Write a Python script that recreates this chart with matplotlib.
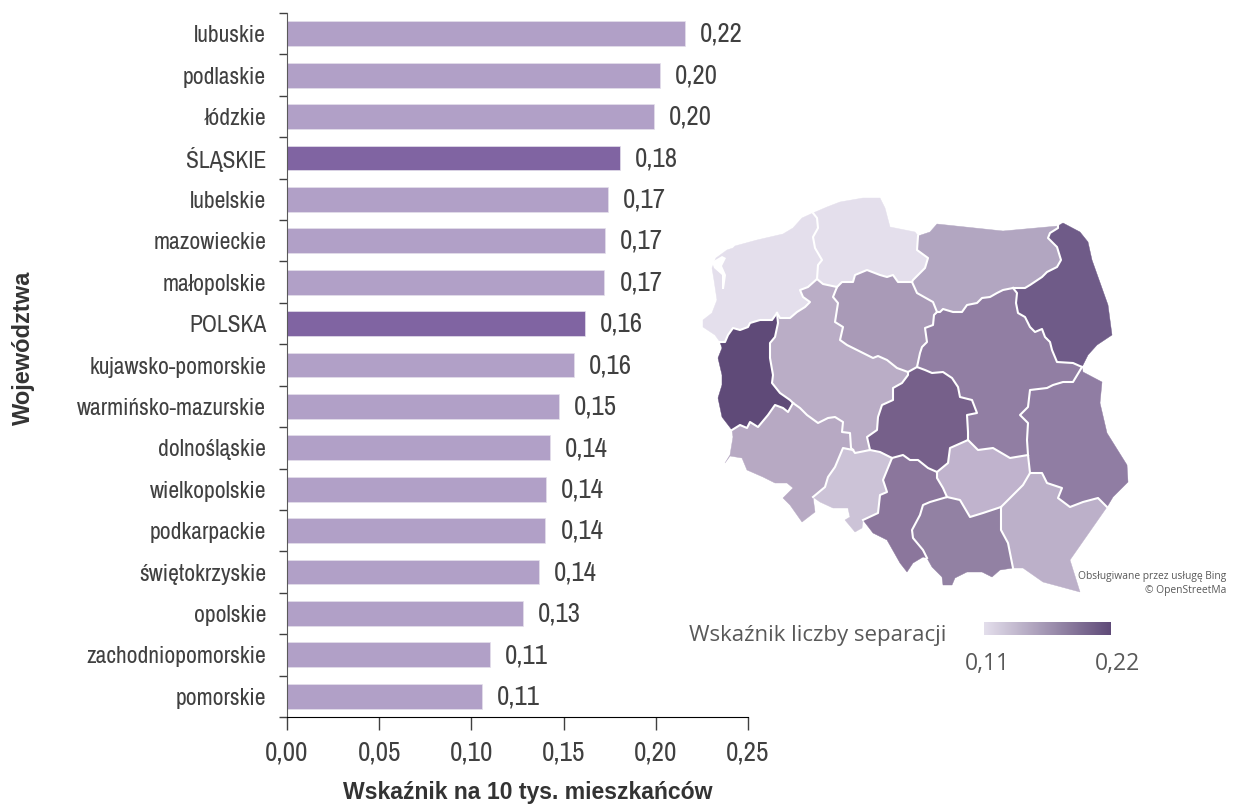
import numpy as np
import matplotlib
matplotlib.use('Agg')
import matplotlib.pyplot as plt
from matplotlib.colors import LinearSegmentedColormap

names = ['lubuskie', 'podlaskie', 'łódzkie', 'ŚLĄSKIE', 'lubelskie', 'mazowieckie', 'małopolskie', 'POLSKA',
         'kujawsko-pomorskie', 'warmińsko-mazurskie', 'dolnośląskie', 'wielkopolskie', 'podkarpackie',
         'świętokrzyskie', 'opolskie', 'zachodniopomorskie', 'pomorskie']
values = [0.2158, 0.2023, 0.199, 0.1806, 0.174, 0.1725, 0.172, 0.1616, 0.1556, 0.1475, 0.1426, 0.1405, 0.14,
          0.1367, 0.128, 0.110, 0.1058]
value_labels = ['0,22', '0,20', '0,20', '0,18', '0,17', '0,17', '0,17', '0,16', '0,16', '0,15', '0,14', '0,14',
                '0,14', '0,14', '0,13', '0,11', '0,11']
x_ticks = [0, 0.05, 0.10, 0.15, 0.20, 0.25]
x_tick_labels = ['0,00', '0,05', '0,10', '0,15', '0,20', '0,25']
highlight = ['ŚLĄSKIE', 'POLSKA']

# map outlines, in pixels of the picture
coast_zach = [(720, 342), (715, 335), (703, 327), (703, 320), (712, 313), (717, 300), (714, 280), (712, 268),
              (716, 258), (727, 250), (733, 248), (735, 246), (757, 240), (783, 234), (793, 228), (802, 218),
              (813, 213)]
zach_pom = [(813, 213), (817, 218), (818, 228), (813, 237), (815, 248), (822, 260), (818, 265), (817, 279)]
zach_wlkp = [(817, 279), (808, 287), (800, 290), (803, 297), (810, 302), (805, 307), (797, 312), (790, 318),
             (780, 318), (777, 313)]
zach_lub = [(777, 313), (772, 320), (760, 320), (750, 323), (748, 327), (740, 330), (733, 328), (728, 335),
            (725, 342), (720, 342)]
lagoon = [(712, 262), (722, 256), (726, 258), (722, 266), (726, 275), (724, 289), (722, 289), (722, 275), (714, 268)]
pom_coast = [(813, 213), (827, 207), (840, 202), (863, 198), (880, 198), (885, 208), (890, 227), (915, 232),
             (918, 236)]
pom_warm = [(918, 236), (917, 250), (928, 258), (925, 268), (913, 280), (912, 282)]
pom_wlkp = [(817, 279), (823, 284), (837, 287)]
pom_kuj = [(837, 287), (842, 282), (853, 282), (855, 275), (867, 270), (880, 275), (887, 277), (893, 275),
           (898, 282), (912, 282)]
warm_coast = [(918, 236), (930, 232), (937, 224), (1003, 231), (1058, 226)]
warm_podl = [(1058, 226), (1058, 228), (1050, 233), (1048, 238), (1057, 247), (1061, 260), (1057, 267), (1047, 272),
             (1042, 277), (1030, 285), (1025, 288), (1013, 288)]
warm_maz = [(1013, 288), (1003, 290), (997, 293), (990, 297), (982, 298), (977, 303), (967, 305), (962, 312),
            (953, 312), (943, 309), (940, 312), (937, 312)]
warm_kuj = [(912, 282), (917, 293), (933, 302), (937, 312)]
podl_east = [(1058, 226), (1063, 223), (1080, 232), (1088, 242), (1092, 260), (1108, 305), (1112, 335),
             (1097, 345), (1088, 355), (1082, 367)]
podl_maz = [(1082, 367), (1073, 363), (1057, 362), (1052, 350), (1050, 342), (1045, 337), (1042, 329), (1035, 332),
            (1030, 327), (1025, 317), (1018, 313), (1016, 303), (1017, 293), (1013, 288)]
kuj_maz = [(937, 312), (934, 315), (933, 325), (925, 328), (927, 342), (922, 347), (920, 353), (917, 367)]
kuj_lodz = [(917, 367), (908, 372)]
wlkp_kuj = [(837, 287), (833, 297), (838, 303), (835, 322), (843, 327), (840, 340), (847, 345), (853, 348),
            (867, 355), (873, 358), (878, 356), (887, 360), (897, 368), (908, 372)]
wlkp_lodz = [(908, 372), (908, 375), (902, 383), (893, 388), (893, 400), (882, 405), (878, 417), (877, 430),
             (867, 437), (870, 450)]
wlkp_opol = [(870, 450), (855, 453), (853, 450)]
wlkp_dol = [(853, 450), (851, 448), (850, 433), (842, 432), (843, 422), (835, 417), (828, 418), (818, 423),
            (807, 415), (800, 408), (793, 403)]
lub_wlkp = [(777, 313), (778, 323), (775, 337), (770, 343), (770, 358), (773, 375), (772, 383), (780, 393),
            (790, 400), (793, 403)]
lub_dol = [(793, 403), (788, 412), (783, 408), (775, 405), (768, 415), (758, 427), (750, 422), (747, 428),
           (740, 425), (732, 430)]
lub_west = [(732, 430), (722, 417), (718, 398), (722, 385), (722, 375), (718, 358), (722, 348), (720, 342)]
dol_opol = [(813, 497), (825, 487), (828, 477), (835, 467), (843, 448), (853, 450)]
dol_south = [(813, 497), (815, 512), (802, 522), (790, 505), (783, 498), (793, 488), (787, 483), (775, 483),
             (763, 477), (747, 470), (742, 458), (730, 456), (725, 463), (730, 455), (733, 437), (732, 430)]
lodz_opol = [(870, 450), (880, 452), (892, 458)]
opol_sl = [(892, 458), (883, 480), (887, 492), (880, 495), (878, 513), (863, 520)]
opol_south = [(863, 520), (862, 528), (855, 532), (845, 520), (850, 517), (848, 508), (833, 508), (820, 502),
              (813, 497)]
lodz_sl = [(937, 472), (928, 468), (918, 460), (910, 460), (903, 455), (892, 458)]
sl_swie = [(937, 472), (937, 478), (943, 488), (947, 497)]
sl_mal = [(947, 497), (930, 502), (923, 505), (920, 515), (912, 530), (913, 538), (923, 550), (927, 558)]
sl_south = [(927, 558), (923, 557), (913, 563), (907, 572), (900, 563), (887, 540), (873, 533), (863, 520)]
mal_swie = [(947, 497), (960, 500), (970, 517), (983, 513), (1001, 507)]
mal_pod = [(1001, 507), (1001, 530), (1008, 543), (1013, 568)]
mal_south = [(1013, 568), (1000, 570), (992, 577), (982, 572), (967, 572), (955, 578), (952, 585), (943, 585),
             (942, 577), (932, 567), (927, 558)]
lodz_swie = [(968, 440), (950, 448), (948, 463), (937, 472)]
maz_lodz = [(917, 367), (925, 370), (932, 373), (943, 372), (952, 378), (958, 387), (960, 397), (972, 400),
            (977, 413), (967, 415), (968, 432), (968, 440)]
maz_swie = [(968, 440), (978, 450), (993, 448), (1010, 458), (1028, 455)]
swie_lub = [(1028, 455), (1030, 473)]
swie_pod = [(1030, 473), (1023, 485), (1003, 505), (1001, 507)]
maz_lub = [(1082, 367), (1073, 382), (1063, 382), (1053, 385), (1047, 388), (1030, 390), (1028, 407), (1020, 415),
           (1028, 423), (1027, 440), (1028, 455)]
lube_east = [(1082, 367), (1083, 372), (1102, 382), (1100, 403), (1107, 433), (1127, 465), (1128, 482),
             (1113, 497), (1107, 507)]
lube_pod = [(1107, 507), (1098, 498), (1083, 502), (1070, 507), (1058, 498), (1062, 488), (1047, 483),
            (1042, 473), (1030, 473)]
pod_south = [(1107, 507), (1070, 560), (1080, 592), (1043, 582), (1023, 568), (1013, 568)]

regions = [
    ('#E4DFEC', [coast_zach, zach_pom, zach_wlkp, zach_lub]),
    ('#E4DFEC', [pom_coast, pom_warm, pom_kuj[::-1], pom_wlkp[::-1], zach_pom[::-1]]),
    ('#B2A6C1', [warm_coast, warm_podl, warm_maz, warm_kuj[::-1], pom_warm[::-1]]),
    ('#6F5B88', [podl_east, podl_maz, warm_podl[::-1]]),
    ('#A99AB7', [pom_kuj, warm_kuj, kuj_maz, kuj_lodz, wlkp_kuj[::-1]]),
    ('#BAADC6', [zach_wlkp[::-1], pom_wlkp, wlkp_kuj, wlkp_lodz, wlkp_opol, wlkp_dol, lub_wlkp[::-1]]),
    ('#76608A', [wlkp_lodz[::-1], kuj_lodz[::-1], maz_lodz, lodz_swie, lodz_sl, lodz_opol[::-1]]),
    ('#5F4A78', [zach_lub[::-1], lub_wlkp, lub_dol, lub_west]),
    ('#B7A9C3', [lub_dol[::-1], wlkp_dol[::-1], dol_opol[::-1], dol_south]),
    ('#CCC3D7', [dol_opol, wlkp_opol[::-1], lodz_opol, opol_sl, opol_south]),
    ('#8B769C', [lodz_sl[::-1], sl_swie, sl_mal, sl_south, opol_sl[::-1]]),
    ('#9281A3', [sl_mal[::-1], mal_swie, mal_pod, mal_south]),
    ('#C0B3CD', [maz_swie, swie_lub, swie_pod, mal_swie[::-1], sl_swie[::-1], lodz_swie[::-1]]),
    ('#917EA3', [warm_maz[::-1], podl_maz[::-1], maz_lub, maz_swie[::-1], maz_lodz[::-1], kuj_maz[::-1]]),
    ('#907DA3', [lube_east, lube_pod, swie_lub[::-1], maz_lub[::-1]]),
    ('#BCB0C9', [lube_pod[::-1], pod_south, mal_pod[::-1], swie_pod[::-1]]),
]
inner_borders = [zach_pom, zach_wlkp, zach_lub, pom_warm, pom_wlkp, pom_kuj, warm_podl, warm_maz, warm_kuj,
                 podl_maz, kuj_maz, kuj_lodz, wlkp_kuj, wlkp_lodz, wlkp_opol, wlkp_dol, lub_wlkp, lub_dol,
                 dol_opol, lodz_opol, opol_sl, lodz_sl, sl_swie, sl_mal, mal_swie, mal_pod, lodz_swie,
                 maz_lodz, maz_swie, swie_lub, swie_pod, maz_lub, lube_pod]

plt.rcParams['font.family'] = ['Archivo Narrow', 'Liberation Sans']
bold_font = ['Liberation Sans', 'DejaVu Sans']
W, H = 1233, 807
fig = plt.figure(figsize=(W/100, H/100), dpi=100)

# bar chart
ax = fig.add_axes([287/W, 1 - 717/H, (748 - 287)/W, (717 - 13)/H])
y = np.arange(len(names))
colors = ['#8064A2' if n in highlight else '#B1A0C7' for n in names]
ax.barh(y, values, height=0.6, color=colors, edgecolor='#E4DFEC', linewidth=0.5)
ax.set_xlim(0, 0.25)
ax.set_ylim(len(names) - 0.5, -0.5)
ax.set_yticks(y)
ax.set_yticklabels(names, fontsize=17, color='#404040')
ax.set_yticks(np.arange(len(names) + 1) - 0.5, minor=True)
ax.tick_params(axis='y', which='major', length=0, pad=15)
ax.tick_params(axis='y', which='minor', length=6, width=1, color='#404040')
ax.set_xticks(x_ticks)
ax.set_xticklabels(x_tick_labels, fontsize=19.5, color='#404040')
ax.tick_params(axis='x', length=9, width=1, color='#404040', pad=8)
for s in ['top', 'right']:
    ax.spines[s].set_visible(False)
ax.spines['left'].set_color('#595959')
ax.spines['bottom'].set_color('black')
for i, v in enumerate(values):
    ax.annotate(value_labels[i], (v, i), xytext=(11, -0.5), textcoords='offset points', va='center', ha='left',
                fontsize=19.3, color='#404040')
fig.text(528/W, 1 - 793/H, 'Wskaźnik na 10 tys. mieszkańców', ha='center', va='center', fontsize=16.6,
         fontweight='bold', color='#333333', family=bold_font)
fig.text(23/W, 1 - 348/H, 'Województwa', ha='center', va='center', rotation=90, fontsize=17,
         fontweight='bold', color='#333333', family=bold_font)

# map
mp = fig.add_axes([0, 0, 1, 1], facecolor='none')
mp.set_xlim(0, W)
mp.set_ylim(H, 0)
mp.axis('off')
for color, segs in regions:
    pts = np.vstack([np.array(s) for s in segs])
    mp.fill(pts[:, 0], pts[:, 1], color=color, linewidth=0.3)
lag = np.array(lagoon)
mp.fill(lag[:, 0], lag[:, 1], color='white', linewidth=0)
for b in inner_borders:
    b = np.array(b)
    mp.plot(b[:, 0], b[:, 1], color='white', linewidth=1.5, solid_joinstyle='round')

right_font = ['Open Sans', 'DejaVu Sans']
mp.text(1226, 577, 'Obsługiwane przez usługę Bing', ha='right', va='center', fontsize=7.4, color='#595959',
        family=right_font)
mp.text(1226, 590, '© OpenStreetMa', ha='right', va='center', fontsize=7.4, color='#595959', family=right_font)
mp.text(689, 636, 'Wskaźnik liczby separacji', ha='left', va='center', fontsize=16, color='#595959',
        family=right_font)
mp.text(987, 664, '0,11', ha='center', va='center', fontsize=16.5, color='#595959', family=right_font)
mp.text(1117, 664, '0,22', ha='center', va='center', fontsize=16.5, color='#595959', family=right_font)

# legend gradient
cb = fig.add_axes([984/W, 1 - 635/H, (1111 - 984)/W, 13/H])
cmap = LinearSegmentedColormap.from_list('sep', ['#E4DFEC', '#5F4A78'])
cb.imshow(np.linspace(0, 1, 256).reshape(1, -1), aspect='auto', cmap=cmap)
cb.axis('off')

fig.savefig('out.png', dpi=100)
